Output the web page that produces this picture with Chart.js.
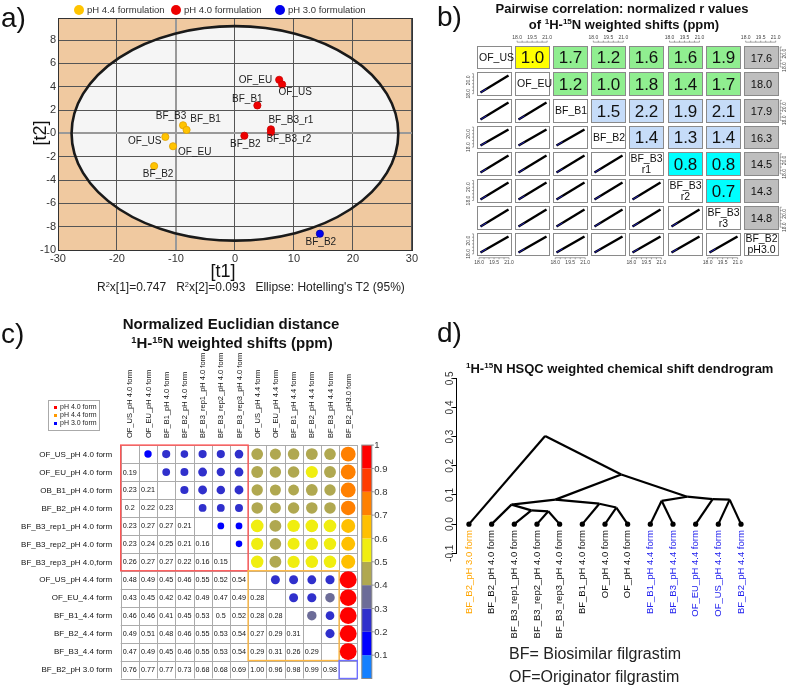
<!DOCTYPE html>
<html>
<head>
<meta charset="utf-8">
<script src="https://cdn.jsdelivr.net/npm/chart.js@4.4.1/dist/chart.umd.min.js"></script>
<style>
body { margin: 0; background: #fff; font-family: "Liberation Sans", Arial, sans-serif; }
#wrap { position: relative; width: 787px; height: 687px; overflow: hidden; }
canvas { position: absolute; }
.t { position: absolute; white-space: nowrap; color: #111; line-height: 1; }
.c { transform: translate(-50%, -50%); }
.v { transform: translate(0, -50%); }
.b { font-weight: bold; }
sup { font-size: 0.62em; vertical-align: 0.5em; line-height: 0; }
.dot { position: absolute; width: 10px; height: 10px; border-radius: 50%; transform: translate(-50%, -50%); }
.sq { display: inline-block; width: 3px; height: 3px; margin-right: 3px; vertical-align: middle; }
</style>
</head>
<body>
<div id="wrap">
  <canvas id="pca" width="420" height="300" style="left:0;top:0"></canvas>
  <canvas id="pairs" width="367" height="270" style="left:420px;top:0"></canvas>
  <canvas id="dist" width="420" height="387" style="left:0;top:300px"></canvas>
  <canvas id="dendro" width="367" height="387" style="left:420px;top:300px"></canvas>

  <!-- panel letters -->
  <div class="t" style="left:1px;top:4px;font-size:28px">a)</div>
  <div class="t" style="left:437px;top:3px;font-size:28px">b)</div>
  <div class="t" style="left:1px;top:320px;font-size:28px">c)</div>
  <div class="t" style="left:437px;top:319px;font-size:28px">d)</div>

  <!-- panel a text -->
  <div class="dot" style="left:79px;top:10px;background:#FFC400"></div>
  <div class="t v" style="left:87px;top:10px;font-size:9.5px;color:#333">pH 4.4 formulation</div>
  <div class="dot" style="left:176px;top:10px;background:#EE0000"></div>
  <div class="t v" style="left:184px;top:10px;font-size:9.5px;color:#333">pH 4.0 formulation</div>
  <div class="dot" style="left:280px;top:10px;background:#0000EE"></div>
  <div class="t v" style="left:288px;top:10px;font-size:9.5px;color:#333">pH 3.0 formulation</div>
  <div class="t c" style="left:223px;top:271px;font-size:18px">[t1]</div>
  <div class="t" style="left:40px;top:133px;font-size:18px;transform:translate(-50%,-50%) rotate(-90deg)">[t2]</div>
  <div class="t v" style="left:97px;top:287px;font-size:12px;color:#222">R<sup>2</sup>x[1]=0.747&nbsp;&nbsp; R<sup>2</sup>x[2]=0.093&nbsp;&nbsp; Ellipse: Hotelling's T2 (95%)</div>

  <!-- panel b text -->
  <div class="t c b" style="left:622px;top:8px;font-size:13px">Pairwise correlation: normalized r values</div>
  <div class="t c b" style="left:624px;top:24px;font-size:13px">of <sup>1</sup>H-<sup>15</sup>N weighted shifts (ppm)</div>

  <!-- panel c text -->
  <div class="t c b" style="left:231px;top:323px;font-size:15px">Normalized Euclidian distance</div>
  <div class="t c b" style="left:232px;top:342px;font-size:15px"><sup>1</sup>H-<sup>15</sup>N weighted shifts (ppm)</div>
  <div class="t" style="left:48px;top:400px;width:52px;height:31px;border:1px solid #aaa;font-size:7px;color:#222;line-height:8px;padding:2px 0 0 5px;box-sizing:border-box">
    <div><span class="sq" style="background:#FF0000"></span>pH 4.0 form</div>
    <div><span class="sq" style="background:#FF9900"></span>pH 4.4 form</div>
    <div><span class="sq" style="background:#0000FF"></span>pH 3.0 form</div>
  </div>

  <!-- panel d text -->
  <div class="t v b" style="left:466px;top:368px;font-size:13px"><sup>1</sup>H-<sup>15</sup>N HSQC weighted chemical shift dendrogram</div>
  <div class="t v" style="left:509px;top:654px;font-size:16px;color:#222">BF= Biosimilar filgrastim</div>
  <div class="t v" style="left:509px;top:677px;font-size:16px;color:#222">OF=Originator filgrastim</div>
</div>

<script>
// ---------- panel a: scores plot ----------
const groupNames = ['pH 4.4 formulation', 'pH 4.0 formulation', 'pH 3.0 formulation'];
const ph44Names = ['BF_B3', 'BF_B1', 'OF_US', 'OF_EU', 'BF_B2'];
const ph44T1 = [-8.8, -8.2, -11.8, -10.5, -13.7];
const ph44T2 = [0.7, 0.3, -0.3, -1.1, -2.8];
const ph40Names = ['OF_EU', 'OF_US', 'BF_B1', 'BF_B3_r1', 'BF_B3_r2', 'BF_B2'];
const ph40T1 = [7.5, 8.0, 3.8, 6.1, 6.1, 1.6];
const ph40T2 = [4.6, 4.2, 2.4, 0.35, 0.1, -0.2];
const ph30Names = ['BF_B2'];
const ph30T1 = [14.4];
const ph30T2 = [-8.6];
const t1Ticks = [-30, -20, -10, 0, 10, 20, 30];
const t2Ticks = [-10, -8, -6, -4, -2, 0, 2, 4, 6, 8];
const ellipseT1 = 27.7;
const ellipseT2 = 9.2;

// ---------- panel b: pairwise correlation ----------
const pairNames = ['OF_US', 'OF_EU', 'BF_B1', 'BF_B2', 'BF_B3\nr1', 'BF_B3\nr2', 'BF_B3\nr3', 'BF_B2\npH3.0'];
const pairUpper = [
  [1.0, 1.7, 1.2, 1.6, 1.6, 1.9, 17.6],
  [1.2, 1.0, 1.8, 1.4, 1.7, 18.0],
  [1.5, 2.2, 1.9, 2.1, 17.9],
  [1.4, 1.3, 1.4, 16.3],
  [0.8, 0.8, 14.5],
  [0.7, 14.3],
  [14.8]
];
const pairXTickLabels = [18.0, 19.5, 21.0];
const pairYTickLabels = [18.0, 20.0];
const pairTickMarks = [18.0, 18.5, 19.0, 19.5, 20.0, 20.5, 21.0];

// ---------- panel c: distance matrix ----------
const distRowNames = ['OF_US_pH 4.0 form', 'OF_EU_pH 4.0 form', 'OB_B1_pH 4.0 form', 'BF_B2_pH 4.0 form',
  'BF_B3_rep1_pH 4.0 form', 'BF_B3_rep2_pH 4.0 form', 'BF_B3_rep3_pH 4.0,form', 'OF_US_pH 4.4 form',
  'OF_EU_4.4 form', 'BF_B1_4.4 form', 'BF_B2_4.4 form', 'BF_B3_4.4 form', 'BF_B2_pH 3.0 form'];
const distColNames = ['OF_US_pH 4.0 form', 'OF_EU_pH 4.0 form', 'BF_B1_pH 4.0 form', 'BF_B2_pH 4.0 form',
  'BF_B3_rep1_pH 4.0 form', 'BF_B3_rep2_pH 4.0 form', 'BF_B3_rep3_pH 4.0 form', 'OF_US_pH 4.4 form',
  'OF_EU_pH 4.4 form', 'BF_B1_pH 4.4 form', 'BF_B2_pH 4.4 form', 'BF_B3_pH 4.4 form', 'BF_B2_pH3.0 form'];
const distLower = [
  [],
  [0.19],
  [0.23, 0.21],
  [0.2, 0.22, 0.23],
  [0.23, 0.27, 0.27, 0.21],
  [0.23, 0.24, 0.25, 0.21, 0.16],
  [0.26, 0.27, 0.27, 0.22, 0.16, 0.15],
  [0.48, 0.49, 0.45, 0.46, 0.55, 0.52, 0.54],
  [0.43, 0.45, 0.42, 0.42, 0.49, 0.47, 0.49, 0.28],
  [0.46, 0.46, 0.41, 0.45, 0.53, 0.5, 0.52, 0.28, 0.28],
  [0.49, 0.51, 0.48, 0.46, 0.55, 0.53, 0.54, 0.27, 0.29, 0.31],
  [0.47, 0.49, 0.45, 0.46, 0.55, 0.53, 0.54, 0.29, 0.31, 0.26, 0.29],
  [0.76, 0.77, 0.77, 0.73, 0.68, 0.68, 0.69, 1.00, 0.96, 0.98, 0.99, 0.98]
];
const colorbarTicks = [0.1, 0.2, 0.3, 0.4, 0.5, 0.6, 0.7, 0.8, 0.9, 1];
const distBlocks = [[0, 6], [7, 11], [12, 12]];

// ---------- panel d: dendrogram ----------
const leafLabels = ['BF_B2_pH 3.0 form', 'BF_B2_pH 4.0 form', 'BF_B3_rep1_pH 4.0 form', 'BF_B3_rep2_pH 4.0 form',
  'BF_B3_rep3_pH 4.0 form', 'BF_B1_pH 4.0 form', 'OF_pH 4.0 form', 'OF_pH 4.0 form',
  'BF_B1_pH 4.4 form', 'BF_B3_pH 4.4 form', 'OF_EU_pH 4.4 form', 'OF_US_pH 4.4 form', 'BF_B2_pH 4.4 form'];
// hclust style: negative = leaf (1-based), positive = earlier merge
const mergePairs = [[-4, -5], [-3, 1], [-7, -8], [-2, 2], [-6, 3], [-9, -10], [4, 5], [-12, -13], [-11, 8], [6, 9], [7, 10], [-1, 11]];
const mergeHeights = [0.044, 0.047, 0.057, 0.067, 0.070, 0.080, 0.084, 0.084, 0.086, 0.094, 0.170, 0.302];
const dendroTicks = [-0.1, 0.0, 0.1, 0.2, 0.3, 0.4, 0.5];

// ---------- styles ----------
const FONT = '"Liberation Sans", Arial, sans-serif';
const groupColors = ['#FFC400', '#EE0000', '#0000EE'];
const groupBorders = ['#E0A000', '#CC0000', '#0000AA'];
const labelOffsets = [
  [[-12, -9, 'center'], [19, -11, 'center'], [-4, 4, 'right'], [5, 6, 'left'], [4, 8, 'center']],
  [[-7, 0, 'right'], [13, 8, 'center'], [-10, -6, 'center'], [20, -9, 'center'], [18, 7, 'center'], [1, 9, 'center']],
  [[1, 9, 'center']]
];
const binColors = ['#1580FF', '#0000FF', '#3030CC', '#6C6C98', '#B0A850', '#F0EE10', '#FFC000', '#FF8000', '#FF3C00', '#FF0000'];
const blockColors = ['#FF5555', '#FFB840', '#7070FF'];
const leafColors = ['#FFA500', '#111', '#111', '#111', '#111', '#111', '#111', '#111', '#2222EE', '#2222EE', '#2222EE', '#2222EE', '#2222EE'];

function binColor(v) { return binColors[Math.min(9, Math.floor(v * 10 + 1e-9))]; }
function distValue(r, c) { return r > c ? distLower[r][c] : distLower[c][r]; }

// ===== panel a =====
const ellipsePlugin = {
  id: 'ellipse',
  beforeDraw(chart) {
    const { ctx, chartArea: a, scales: { x, y } } = chart;
    ctx.save();
    ctx.fillStyle = '#F0C9A0';
    ctx.fillRect(a.left, a.top, a.width, a.height);
    const cx = x.getPixelForValue(0), cy = y.getPixelForValue(0);
    ctx.beginPath();
    ctx.ellipse(cx, cy, x.getPixelForValue(ellipseT1) - cx, cy - y.getPixelForValue(ellipseT2), 0, 0, Math.PI * 2);
    ctx.fillStyle = '#F5F5F5';
    ctx.fill();
    ctx.restore();
  },
  beforeDatasetsDraw(chart) {
    const { ctx, chartArea: a, scales: { x, y } } = chart;
    ctx.save();
    const cx = x.getPixelForValue(0), cy = y.getPixelForValue(0);
    ctx.beginPath();
    ctx.ellipse(cx, cy, x.getPixelForValue(ellipseT1) - cx, cy - y.getPixelForValue(ellipseT2), 0, 0, Math.PI * 2);
    ctx.lineWidth = 2.6;
    ctx.strokeStyle = '#1a1a1a';
    ctx.stroke();
    ctx.lineWidth = 1;
    ctx.strokeStyle = '#333';
    ctx.strokeRect(Math.round(a.left) + 0.5, Math.round(a.top) + 0.5, Math.round(a.width), Math.round(a.height));
    ctx.restore();
  },
  afterDatasetsDraw(chart) {
    const ctx = chart.ctx;
    ctx.save();
    ctx.font = '10px ' + FONT;
    ctx.fillStyle = '#222';
    ctx.textBaseline = 'middle';
    chart.data.datasets.forEach((ds, di) => {
      chart.getDatasetMeta(di).data.forEach((pt, i) => {
        const o = labelOffsets[di][i];
        ctx.textAlign = o[2];
        ctx.fillText(ds.data[i].name, pt.x + o[0], pt.y + o[1]);
      });
    });
    ctx.restore();
  }
};

function groupData(t1, t2, names) {
  return t1.map((v, i) => ({ x: v, y: t2[i], name: names[i] }));
}

new Chart(document.getElementById('pca'), {
  type: 'scatter',
  data: {
    datasets: [
      { label: groupNames[0], data: groupData(ph44T1, ph44T2, ph44Names) },
      { label: groupNames[1], data: groupData(ph40T1, ph40T2, ph40Names) },
      { label: groupNames[2], data: groupData(ph30T1, ph30T2, ph30Names) }
    ].map((d, i) => Object.assign(d, {
      backgroundColor: groupColors[i], borderColor: groupBorders[i], borderWidth: 0.8, pointRadius: 3.6
    }))
  },
  options: {
    responsive: false, animation: false, events: [],
    layout: { padding: { top: 18, right: 8, left: 0, bottom: 0 } },
    plugins: { legend: { display: false }, tooltip: { enabled: false } },
    scales: {
      x: {
        min: -30, max: 30,
        afterBuildTicks: s => { s.ticks = t1Ticks.map(v => ({ value: v })); },
        afterFit: s => { s.height = 50; },
        ticks: { font: { size: 11, family: FONT }, color: '#333', padding: 2, maxRotation: 0 },
        grid: { color: c => c.tick && c.tick.value === -10 ? '#999' : '#555', lineWidth: c => c.tick && c.tick.value === -10 ? 2 : 1, drawTicks: false },
        border: { color: '#333' }
      },
      y: {
        min: -10, max: 9.9,
        afterBuildTicks: s => { s.ticks = t2Ticks.map(v => ({ value: v })); },
        afterFit: s => { s.width = 58; },
        ticks: { font: { size: 11, family: FONT }, color: '#333', padding: 2, callback: v => (v === 0 ? '-0' : String(v)) },
        grid: { color: c => c.tick && c.tick.value === 0 ? '#999' : '#555', lineWidth: c => c.tick && c.tick.value === 0 ? 2 : 1, drawTicks: false },
        border: { color: '#333' }
      }
    }
  },
  plugins: [ellipsePlugin]
});

// ===== panel b =====
const pairsPlugin = {
  id: 'pairs',
  afterDraw(chart) {
    const { ctx, scales: { x, y } } = chart;
    const n = pairNames.length;
    const hw = 0.446, hh = 0.425;
    ctx.save();
    for (let r = 0; r < n; r++) {
      for (let c = 0; c < n; c++) {
        const x0 = Math.round(x.getPixelForValue(c - hw)) + 0.5;
        const x1 = Math.round(x.getPixelForValue(c + hw)) + 0.5;
        const y0 = Math.round(y.getPixelForValue(r - hh)) + 0.5;
        const y1 = Math.round(y.getPixelForValue(r + hh)) + 0.5;
        const cx = (x0 + x1) / 2, cy = (y0 + y1) / 2;
        let fill = '#FFFFFF';
        if (c > r) {
          if (c === n - 1) fill = '#BEBEBE';
          else if (r === 0 && c === 1) fill = '#FFFF00';
          else if (r < 2) fill = '#90EE90';
          else if (r < 4) fill = '#C6DCF8';
          else fill = '#00FFFF';
        }
        ctx.fillStyle = fill;
        ctx.fillRect(x0, y0, x1 - x0, y1 - y0);
        ctx.strokeStyle = '#8a8a8a';
        ctx.lineWidth = 1;
        ctx.strokeRect(x0, y0, x1 - x0, y1 - y0);
        ctx.fillStyle = '#111';
        if (c > r) {
          const v = pairUpper[r][c - r - 1];
          ctx.textAlign = 'center';
          ctx.textBaseline = 'middle';
          ctx.font = (c === n - 1 ? '11px ' : '17px ') + FONT;
          ctx.fillText(v.toFixed(1), cx, cy + 1);
        } else if (c === r) {
          const lines = pairNames[r].split('\n');
          ctx.font = '10.5px ' + FONT;
          ctx.textBaseline = 'middle';
          if (lines.length === 1) {
            ctx.textAlign = 'left';
            ctx.fillText(lines[0], x0 + 1.5, cy + 0.5);
          } else {
            ctx.textAlign = 'center';
            ctx.fillText(lines[0], cx, cy - 5);
            ctx.fillText(lines[1], cx, cy + 6);
          }
        } else {
          ctx.strokeStyle = '#000';
          ctx.lineWidth = 2.4;
          ctx.beginPath();
          ctx.moveTo(x0 + 3, y1 - 3);
          ctx.lineTo(x1 - 3, y0 + 3);
          ctx.stroke();
          ctx.strokeStyle = '#2a2ae0';
          ctx.lineWidth = 0.8;
          ctx.beginPath();
          ctx.moveTo(x0 + 3, y1 - 3);
          ctx.lineTo(x0 + 9, y1 - 6.6);
          ctx.stroke();
        }
      }
    }
    // tiny pairs axes
    const lo = 17.8, hi = 21.2;
    ctx.fillStyle = '#444';
    ctx.strokeStyle = '#666';
    ctx.lineWidth = 0.6;
    ctx.font = '5px ' + FONT;
    for (let k = 0; k < n; k++) {
      const x0 = x.getPixelForValue(k - hw), x1 = x.getPixelForValue(k + hw);
      const y0 = y.getPixelForValue(k - hh), y1 = y.getPixelForValue(k + hh);
      const fx = v => x0 + (v - lo) / (hi - lo) * (x1 - x0);
      const fy = v => y1 - (v - lo) / (hi - lo) * (y1 - y0);
      // horizontal axis: top for odd columns, bottom for even
      const top = k % 2 === 1;
      const ay = top ? y.getPixelForValue(-hh) - 3.5 : y.getPixelForValue(n - 1 + hh) + 2.5;
      ctx.beginPath();
      ctx.moveTo(fx(pairTickMarks[0]), ay);
      ctx.lineTo(fx(pairTickMarks[pairTickMarks.length - 1]), ay);
      pairTickMarks.forEach(v => { ctx.moveTo(fx(v), ay); ctx.lineTo(fx(v), ay + (top ? -1.5 : 1.5)); });
      ctx.stroke();
      ctx.textAlign = 'center';
      ctx.textBaseline = 'middle';
      pairXTickLabels.forEach(v => ctx.fillText(v.toFixed(1), fx(v), ay + (top ? -4.5 : 4.5)));
      // vertical axis: right for even rows, left for odd
      const right = k % 2 === 0;
      const ax = right ? x.getPixelForValue(n - 1 + hw) + 2.5 : x.getPixelForValue(-hw) - 3.5;
      ctx.beginPath();
      ctx.moveTo(ax, fy(pairTickMarks[0]));
      ctx.lineTo(ax, fy(pairTickMarks[pairTickMarks.length - 1]));
      pairTickMarks.forEach(v => { ctx.moveTo(ax, fy(v)); ctx.lineTo(ax + (right ? 1.5 : -1.5), fy(v)); });
      ctx.stroke();
      pairYTickLabels.forEach(v => {
        ctx.save();
        ctx.translate(ax + (right ? 4.5 : -4.5), fy(v));
        ctx.rotate(-Math.PI / 2);
        ctx.fillText(v.toFixed(1), 0, 0);
        ctx.restore();
      });
    }
    ctx.restore();
  }
};

new Chart(document.getElementById('pairs'), {
  type: 'scatter',
  data: { datasets: [{ data: pairNames.map((_, i) => ({ x: i, y: i })), pointRadius: 0 }] },
  options: {
    responsive: false, animation: false, events: [],
    layout: { padding: { left: 55, right: 7.25, top: 43.65, bottom: 12.75 } },
    plugins: { legend: { display: false }, tooltip: { enabled: false } },
    scales: {
      x: { display: false, min: -0.5, max: 7.5 },
      y: { display: false, min: -0.5, max: 7.5, reverse: true }
    }
  },
  plugins: [pairsPlugin]
});

// ===== panel c =====
const distPlugin = {
  id: 'dist',
  beforeDatasetsDraw(chart) {
    const { ctx, chartArea: a, scales: { x, y } } = chart;
    const n = distRowNames.length;
    ctx.save();
    ctx.strokeStyle = '#ababab';
    ctx.lineWidth = 1;
    ctx.beginPath();
    for (let k = 0; k <= n; k++) {
      const px = Math.round(x.getPixelForValue(k - 0.5)) + 0.5;
      const py = Math.round(y.getPixelForValue(k - 0.5)) + 0.5;
      ctx.moveTo(px, a.top); ctx.lineTo(px, a.bottom);
      ctx.moveTo(a.left, py); ctx.lineTo(a.right, py);
    }
    ctx.stroke();
    ctx.lineWidth = 1.4;
    distBlocks.forEach((b, i) => {
      const x0 = x.getPixelForValue(b[0] - 0.5), x1 = x.getPixelForValue(b[1] + 0.5);
      const y0 = y.getPixelForValue(b[0] - 0.5), y1 = y.getPixelForValue(b[1] + 0.5);
      ctx.strokeStyle = blockColors[i];
      ctx.strokeRect(x0, y0, x1 - x0, y1 - y0);
    });
    ctx.restore();
  },
  afterDatasetsDraw(chart) {
    const { ctx, chartArea: a, scales: { x, y } } = chart;
    const n = distRowNames.length;
    ctx.save();
    ctx.fillStyle = '#111';
    ctx.textAlign = 'center';
    ctx.textBaseline = 'middle';
    ctx.font = '7.2px ' + FONT;
    for (let r = 1; r < n; r++) {
      distLower[r].forEach((v, c) => {
        ctx.fillText(v >= 1 ? v.toFixed(2) : String(v), x.getPixelForValue(c), y.getPixelForValue(r) + 0.5);
      });
    }
    // row labels
    ctx.font = '8px ' + FONT;
    ctx.textAlign = 'right';
    distRowNames.forEach((s, r) => ctx.fillText(s, a.left - 8.5, y.getPixelForValue(r) + 0.5));
    // column labels
    ctx.font = '7.5px ' + FONT;
    ctx.textAlign = 'left';
    distColNames.forEach((s, c) => {
      ctx.save();
      ctx.translate(x.getPixelForValue(c) + 0.5, a.top - 7);
      ctx.rotate(-Math.PI / 2);
      ctx.fillText(s, 0, 0);
      ctx.restore();
    });
    // colour bar
    const bx = a.right + 4.5, bw = 10;
    const vy = v => a.bottom - v * (a.bottom - a.top);
    binColors.forEach((col, k) => {
      ctx.fillStyle = col;
      ctx.fillRect(bx, vy((k + 1) / 10), bw, vy(k / 10) - vy((k + 1) / 10));
    });
    ctx.strokeStyle = '#8a8a8a';
    ctx.lineWidth = 1;
    ctx.strokeRect(bx, a.top, bw, a.bottom - a.top);
    ctx.fillStyle = '#333';
    ctx.font = '9.5px ' + FONT;
    ctx.textAlign = 'left';
    ctx.beginPath();
    colorbarTicks.forEach(v => {
      ctx.moveTo(bx + bw, vy(v)); ctx.lineTo(bx + bw + 2, vy(v));
      ctx.fillText(String(v), bx + bw + 2.5, vy(v) + 0.5);
    });
    ctx.stroke();
    ctx.restore();
  }
};

const bubbles = [];
for (let r = 0; r < distRowNames.length; r++) {
  for (let c = r + 1; c < distColNames.length; c++) {
    bubbles.push({ x: c, y: r, v: distValue(r, c) });
  }
}

new Chart(document.getElementById('dist'), {
  type: 'bubble',
  data: {
    datasets: [{
      data: bubbles.map(b => ({ x: b.x, y: b.y, r: 8.5 * Math.sqrt(b.v) })),
      backgroundColor: bubbles.map(b => binColor(b.v)),
      borderWidth: 0
    }]
  },
  options: {
    responsive: false, animation: false, events: [],
    layout: { padding: { left: 120.7, right: 62.7, top: 145.1, bottom: 3.6 } },
    plugins: { legend: { display: false }, tooltip: { enabled: false } },
    scales: {
      x: { display: false, min: -0.5, max: 12.5 },
      y: { display: false, min: -0.5, max: 12.5, reverse: true }
    }
  },
  plugins: [distPlugin]
});

// ===== panel d =====
const nodeX = [];
function nodePos(id) {
  return id < 0 ? { x: -id - 1, y: 0 } : { x: nodeX[id - 1], y: mergeHeights[id - 1] };
}
const linkSets = [];
mergePairs.forEach((p, k) => {
  const a = nodePos(p[0]), b = nodePos(p[1]);
  nodeX[k] = (a.x + b.x) / 2;
  const me = { x: nodeX[k], y: mergeHeights[k] };
  [a, b].forEach(ch => linkSets.push({
    data: [me, ch], showLine: true, borderColor: '#000', borderWidth: 2.2, pointRadius: 0
  }));
});

const dendroPlugin = {
  id: 'dendroText',
  afterDraw(chart) {
    const { ctx, chartArea: a, scales: { x, y } } = chart;
    ctx.save();
    ctx.textBaseline = 'middle';
    ctx.font = '10px ' + FONT;
    ctx.fillStyle = '#333';
    ctx.textAlign = 'center';
    dendroTicks.forEach(v => {
      ctx.save();
      ctx.translate(a.left - 6, y.getPixelForValue(v));
      ctx.rotate(-Math.PI / 2);
      ctx.fillText(v.toFixed(1), 0, 0);
      ctx.restore();
    });
    ctx.textAlign = 'right';
    ctx.font = '9.5px ' + FONT;
    leafLabels.forEach((s, i) => {
      ctx.save();
      ctx.translate(x.getPixelForValue(i), y.getPixelForValue(0) + 6);
      ctx.rotate(-Math.PI / 2);
      ctx.fillStyle = leafColors[i];
      ctx.fillText(s, 0, 0);
      ctx.restore();
    });
    ctx.restore();
  }
};

new Chart(document.getElementById('dendro'), {
  type: 'scatter',
  data: {
    datasets: linkSets.concat([{
      data: leafLabels.map((_, i) => ({ x: i, y: 0 })),
      pointRadius: 2.6, backgroundColor: '#000', borderWidth: 0
    }])
  },
  options: {
    responsive: false, animation: false, events: [],
    layout: { padding: { left: 30.5, right: 32.4, top: 78.3, bottom: 133.7 } },
    plugins: { legend: { display: false }, tooltip: { enabled: false } },
    scales: {
      x: { display: false, min: -0.55, max: 12.6 },
      y: {
        min: -0.1, max: 0.5,
        afterBuildTicks: s => { s.ticks = dendroTicks.map(v => ({ value: v })); },
        afterFit: s => { s.width = 6; },
        ticks: { display: false },
        grid: { drawOnChartArea: false, drawTicks: true, tickLength: 5, tickColor: '#000', tickWidth: 1 },
        border: { color: '#000', width: 1 }
      }
    }
  },
  plugins: [dendroPlugin]
});
</script>
</body>
</html>
